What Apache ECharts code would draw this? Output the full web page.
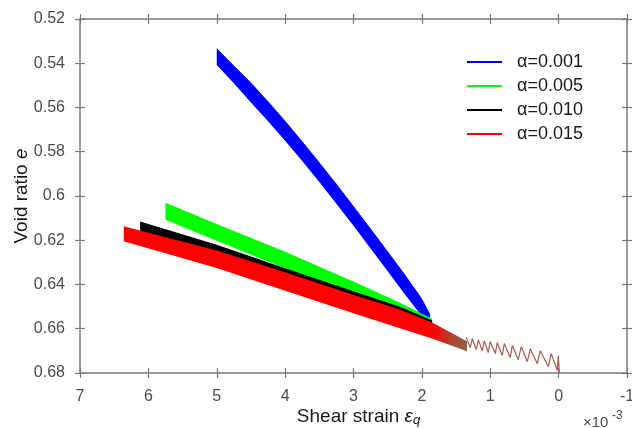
<!DOCTYPE html>
<html>
<head>
<meta charset="utf-8">
<script src="https://cdn.jsdelivr.net/npm/echarts@6/dist/echarts.min.js"></script>
<style>
  html, body { margin: 0; padding: 0; background: #fff; }
  #chart { width: 632px; height: 428px; }
</style>
</head>
<body>
<div id="chart"></div>
<script>
// band edges (x in 1e-3 shear strain, void ratio e)
const blueX = [5.0, 4.75, 4.5, 4.25, 4.0, 3.75, 3.5, 3.25, 3.0, 2.75, 2.5, 2.25, 2.0, 1.88];
const blueUpper = [0.5332, 0.541, 0.5487, 0.5572, 0.566, 0.5752, 0.5847, 0.5945, 0.6045, 0.6147, 0.625, 0.6354, 0.6463, 0.6533];
const blueLower = [0.5408, 0.549, 0.5577, 0.5662, 0.575, 0.5842, 0.5937, 0.6035, 0.6135, 0.6237, 0.634, 0.6444, 0.6543, 0.6573];

const greenX = [5.75, 5.0, 4.0, 3.0, 2.32, 1.85];
const greenUpper = [0.6031, 0.6126, 0.6252, 0.6387, 0.6482, 0.6555];
const greenLower = [0.6107, 0.6202, 0.6328, 0.6463, 0.6555, 0.659];

const blackX = [6.12, 5.0, 4.0, 3.0, 2.32, 1.85];
const blackUpper = [0.6115, 0.622, 0.6327, 0.643, 0.65, 0.6563];
const blackLower = [0.6185, 0.629, 0.6397, 0.65, 0.657, 0.662];

const redX = [6.36, 5.0, 4.0, 3.0, 2.32, 1.85, 1.34];
const redUpper = [0.6137, 0.6246, 0.6345, 0.6446, 0.6513, 0.6572, 0.6657];
const redLower = [0.6205, 0.6325, 0.6428, 0.653, 0.6598, 0.6644, 0.6702];

// zigzag tail of the loading cycles
const tailX = [1.351, 1.292, 1.263, 1.205, 1.175, 1.117, 1.087, 1.029, 1.0, 0.927, 0.897, 0.824,
  0.795, 0.707, 0.678, 0.59, 0.546, 0.458, 0.414, 0.312, 0.268, 0.151, 0.107, 0.019, 0.005, -0.01];
const tailE = [0.664, 0.6685, 0.6645, 0.6694, 0.6649, 0.6699, 0.6654, 0.6708, 0.6658, 0.6712, 0.6663, 0.6721,
  0.6667, 0.673, 0.6676, 0.674, 0.6681, 0.6749, 0.669, 0.6758, 0.6699, 0.6771, 0.6712, 0.6789, 0.6721, 0.6798];

const seriesNames = ['α=0.001', 'α=0.005', 'α=0.010', 'α=0.015'];
const seriesColors = ['#0000ff', '#00ff00', '#000000', '#ff0000'];

const font = 'Liberation Sans, Arial, sans-serif';
const axisColor = '#7a7a7a';
const labelColor = '#4d4d4d';

function bandSeries(name, color, xs, up, lo, gradient) {
  return {
    name: name,
    type: 'custom',
    xAxisIndex: 0,
    yAxisIndex: 0,
    itemStyle: { color: color },
    data: xs.map((x, i) => [x, up[i], lo[i]]),
    encode: { x: 0, y: [1, 2] },
    renderItem: function (params, api) {
      if (params.dataIndex !== 0) return null;
      const pts = [];
      for (let i = 0; i < xs.length; i++) pts.push(api.coord([xs[i], up[i]]));
      for (let i = xs.length - 1; i >= 0; i--) pts.push(api.coord([xs[i], lo[i]]));
      let fill = color;
      if (gradient) {
        const x0 = api.coord([2.0, 0.6])[0];
        const x1 = api.coord([1.34, 0.6])[0];
        fill = {
          type: 'linear', x: x0, y: 0, x2: x1, y2: 0, global: true,
          colorStops: [
            { offset: 0, color: '#ff0000' },
            { offset: 0.3, color: '#f00a0a' },
            { offset: 0.65, color: '#b0432f' },
            { offset: 1, color: '#8c6448' }
          ]
        };
      }
      return { type: 'polygon', shape: { points: pts }, style: { fill: fill, stroke: null } };
    }
  };
}

const xBase = { type: 'value', min: -1, max: 7, interval: 1, inverse: true, splitLine: { show: false } };
const yBase = { type: 'value', min: 0.52, max: 0.68, interval: 0.02, inverse: true, splitLine: { show: false } };
const lineOn = { show: true, onZero: false, lineStyle: { color: axisColor, width: 1.5 } };
const lineOff = { show: false, onZero: false };
const tickOut = { show: true, inside: false, length: 5, lineStyle: { color: axisColor, width: 1.2 } };
const tickIn = { show: true, inside: true, length: 5, lineStyle: { color: axisColor, width: 1.2 } };

const chart = echarts.init(document.getElementById('chart'));
const option = {
  animation: false,
  backgroundColor: '#fff',
  grid: { left: 80, right: 5, top: 19, bottom: 55, containLabel: false, outerBoundsMode: 'none' },
  legend: {
    orient: 'vertical',
    left: 467,
    top: 52,
    padding: 0,
    itemGap: 4,
    itemWidth: 35,
    itemHeight: 2,
    icon: 'rect',
    data: seriesNames,
    textStyle: { fontFamily: font, fontSize: 18, color: '#1a1a1a', lineHeight: 20, padding: [0, 0, 0, 10] }
  },
  xAxis: [
    Object.assign({}, xBase, {
      position: 'bottom', axisLine: lineOn, axisTick: tickOut,
      axisLabel: { fontFamily: font, fontSize: 16, color: labelColor, margin: 16 },
      name: 'Shear strain {e|ε}{q|q}',
      nameLocation: 'middle',
      nameGap: 33,
      nameMoveOverlap: false,
      nameTextStyle: {
        fontFamily: font, fontSize: 19, color: '#1a1a1a', padding: [0, 0, 0, 10],
        rich: {
          e: { fontFamily: font, fontSize: 19, fontStyle: 'italic', color: '#1a1a1a' },
          q: { fontFamily: font, fontSize: 13, fontStyle: 'italic', color: '#1a1a1a', padding: [8, 0, 0, 0] }
        }
      }
    }),
    Object.assign({}, xBase, { position: 'bottom', axisLine: lineOff, axisTick: tickIn, axisLabel: { show: false } }),
    Object.assign({}, xBase, { position: 'top', axisLine: lineOn, axisTick: tickOut, axisLabel: { show: false } }),
    Object.assign({}, xBase, { position: 'top', axisLine: lineOff, axisTick: tickIn, axisLabel: { show: false } })
  ],
  yAxis: [
    Object.assign({}, yBase, {
      position: 'left', axisLine: lineOn, axisTick: tickOut,
      axisLabel: { fontFamily: font, fontSize: 16, color: labelColor, margin: 15 },
      name: 'Void ratio {i|e}',
      nameLocation: 'middle',
      nameGap: 49,
      nameMoveOverlap: false,
      nameTextStyle: {
        fontFamily: font, fontSize: 19, color: '#1a1a1a',
        rich: { i: { fontFamily: font, fontSize: 19, fontStyle: 'italic', color: '#1a1a1a' } }
      }
    }),
    Object.assign({}, yBase, { position: 'left', axisLine: lineOff, axisTick: tickIn, axisLabel: { show: false } }),
    Object.assign({}, yBase, { position: 'right', axisLine: lineOn, axisTick: tickOut, axisLabel: { show: false } }),
    Object.assign({}, yBase, { position: 'right', axisLine: lineOff, axisTick: tickIn, axisLabel: { show: false } })
  ],
  graphic: [
    { type: 'text', left: 583, top: 415, style: { text: '×10', fontFamily: font, fontSize: 15, fill: '#4d4d4d' } },
    { type: 'text', left: 612, top: 410, style: { text: '-3', fontFamily: font, fontSize: 12, fill: '#4d4d4d' } }
  ],
  series: [
    bandSeries(seriesNames[0], seriesColors[0], blueX, blueUpper, blueLower, false),
    bandSeries(seriesNames[1], seriesColors[1], greenX, greenUpper, greenLower, false),
    bandSeries(seriesNames[2], seriesColors[2], blackX, blackUpper, blackLower, false),
    bandSeries(seriesNames[3], seriesColors[3], redX, redUpper, redLower, true),
    {
      name: 'tail',
      type: 'line',
      xAxisIndex: 0,
      yAxisIndex: 0,
      showSymbol: false,
      data: tailX.map((x, i) => [x, tailE[i]]),
      lineStyle: { color: '#b05a50', width: 1.2 },
      z: 3
    }
  ]
};
chart.setOption(option);
window.onresize = () => {
  chart.resize();
};
</script>
</body>
</html>
